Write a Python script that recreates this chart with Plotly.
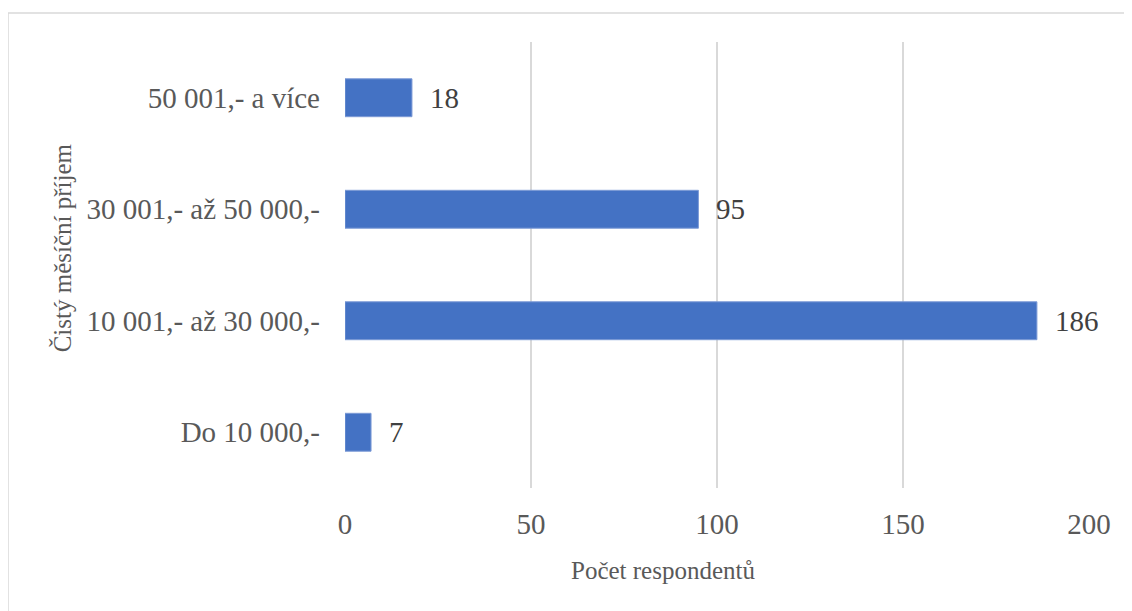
import plotly.graph_objects as go

categories = ["Do 10 000,-", "10 001,- až 30 000,-", "30 001,- až 50 000,-", "50 001,- a více"]
counts = [7, 186, 95, 18]
x_ticks = [0, 50, 100, 150, 200]

FONT = "'Times New Roman', 'Liberation Serif', 'DejaVu Serif', serif"

# page has an 8px body margin, so figure coords = page coords - 8
fig = go.Figure()
fig.add_trace(go.Bar(
    y=categories, x=counts, orientation="h",
    marker=dict(color="#4472C4", line=dict(color="#7d9bd6", width=1)),
))

# value labels next to the bar ends
for cat, val in zip(categories, counts):
    fig.add_annotation(x=val, y=cat, text=str(val), showarrow=False,
                       xanchor="left", xshift=16,
                       font=dict(family=FONT, size=29, color="#404040"))

# axis titles (Excel places them off-centre, so annotations instead of axis titles)
fig.add_annotation(text="Počet respondentů", xref="paper", yref="paper",
                   x=0.4274, y=-0.184, xanchor="center", yanchor="middle",
                   showarrow=False, font=dict(family=FONT, size=25, color="#595959"))
fig.add_annotation(text="Čistý měsíční příjem", xref="paper", yref="paper",
                   x=-0.380, y=0.538, xanchor="center", yanchor="middle",
                   textangle=-90, showarrow=False,
                   font=dict(family=FONT, size=25, color="#595959"))

fig.update_layout(
    width=1132, height=611,
    margin=dict(l=337, r=51, t=34, b=131, autoexpand=False),
    paper_bgcolor="white", plot_bgcolor="white",
    bargap=0.66, showlegend=False,
    font=dict(family=FONT, color="#595959"),
    shapes=[dict(type="rect", xref="paper", yref="paper",
                 x0=(0 - 337) / 744, x1=(1200 - 337) / 744,
                 y0=(480 - 700) / 446, y1=(480 - 5) / 446,
                 line=dict(color="#d9d9d9", width=1.5), layer="below")],
)
fig.update_xaxes(
    range=[0, 200], tickvals=x_ticks, showgrid=True, gridcolor="#d9d9d9", gridwidth=1.5,
    zeroline=False, showline=False, tickfont=dict(family=FONT, size=29, color="#595959"),
    ticklabelstandoff=16,
)
fig.update_yaxes(
    categoryorder="array", categoryarray=categories, showgrid=False,
    showline=False, zeroline=False, tickfont=dict(family=FONT, size=29, color="#595959"),
    ticklabelstandoff=24,
)

fig.write_html("out.html")
